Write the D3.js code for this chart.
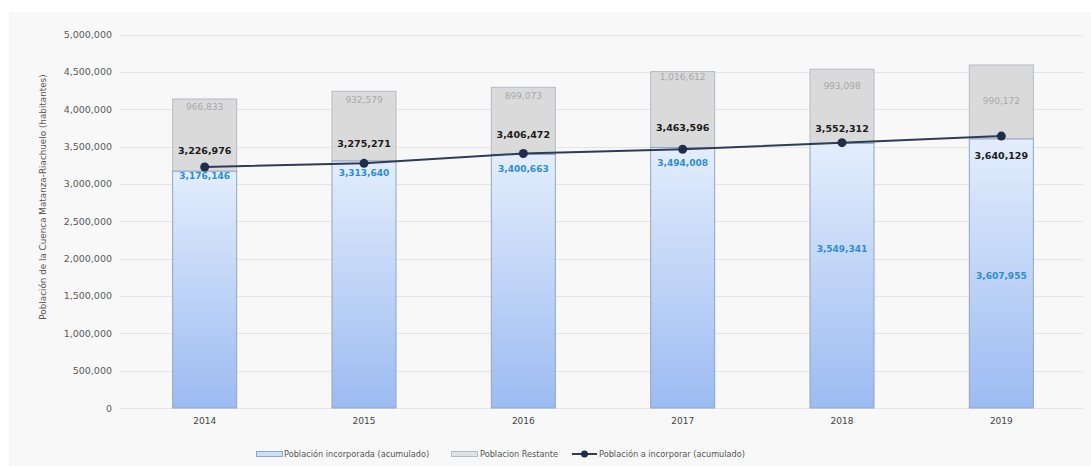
<!DOCTYPE html>
<html>
<head>
<meta charset="utf-8">
<script src="https://cdn.jsdelivr.net/npm/d3@7"></script>
<style>
  html, body { margin: 0; padding: 0; background: #ffffff; }
  svg { display: block; }
  text { font-family: "DejaVu Sans", sans-serif; }
</style>
</head>
<body>
<svg id="chart" width="1091" height="466"></svg>
<script>
// Años y series (habitantes)
const years = ["2014", "2015", "2016", "2017", "2018", "2019"];
const incorporada = [3176146, 3313640, 3400663, 3494008, 3549341, 3607955];
const restante = [966833, 932579, 899073, 1016612, 993098, 990172];
const aIncorporar = [3226976, 3275271, 3406472, 3463596, 3552312, 3640129];
const yTicks = [0, 500000, 1000000, 1500000, 2000000, 2500000, 3000000, 3500000, 4000000, 4500000, 5000000];
const seriesNames = ["Población incorporada (acumulado)", "Poblacion Restante", "Población a incorporar (acumulado)"];
const yTitle = "Población de la Cuenca Matanza-Riachuelo (habitantes)";

// Desplazamientos de las etiquetas (px) para evitar solapamientos
const lineLabelDy = [-15, -19, -18, -21, -13, 20];
const incLabelDy = [10, 10, 16, 14, 107, 140];
const restLabelDy = [9, 10, 10, 6, 18, 37];

const svg = d3.select("#chart");
const W = 1091, H = 466;
const plot = { left: 120, right: 1083, top: 34.5, bottom: 408 };

const fmt = d3.format(",");

// Panel de fondo
svg.append("rect").attr("x", 9).attr("y", 12).attr("width", W - 9).attr("height", H - 12)
  .attr("fill", "#f8f8f8");

const defs = svg.append("defs");
const grad = defs.append("linearGradient").attr("id", "gBlue")
  .attr("x1", 0).attr("y1", 0).attr("x2", 0).attr("y2", 1);
grad.append("stop").attr("offset", "0%").attr("stop-color", "#e3edfc");
grad.append("stop").attr("offset", "100%").attr("stop-color", "#9cbbf2");

const x = d3.scaleBand().domain(years).range([125, 1081]).paddingInner(0.592).paddingOuter(0.296);
const y = d3.scaleLinear().domain([0, 5000000]).range([plot.bottom, plot.top]);

// Líneas de cuadrícula
svg.append("g").selectAll("line").data(yTicks).join("line")
  .attr("x1", plot.left).attr("x2", plot.right)
  .attr("y1", d => Math.round(y(d)) + 0.5).attr("y2", d => Math.round(y(d)) + 0.5)
  .attr("stroke", "#e4e4e4").attr("stroke-width", 1);

// Eje Y
const yAxis = svg.append("g").attr("transform", `translate(${plot.left - 6},0)`)
  .call(d3.axisLeft(y).tickValues(yTicks).tickFormat(fmt).tickSize(0).tickPadding(2));
yAxis.select(".domain").remove();
yAxis.selectAll("text").attr("font-size", "9.5px").attr("fill", "#5a5a5a")
  .attr("font-family", "DejaVu Sans, sans-serif");

// Eje X
const xAxis = svg.append("g").attr("transform", `translate(0,${plot.bottom})`)
  .call(d3.axisBottom(x).tickSize(0).tickPadding(10));
xAxis.select(".domain").remove();
xAxis.selectAll("text").attr("font-size", "9px").attr("fill", "#444")
  .attr("font-family", "DejaVu Sans, sans-serif");

// Título del eje Y
svg.append("text")
  .attr("transform", `translate(46,197) rotate(-90)`)
  .attr("text-anchor", "middle")
  .attr("font-size", "8.8px").attr("fill", "#555")
  .text(yTitle);

// Barras apiladas
const bars = svg.append("g");
years.forEach((yr, i) => {
  const x0 = x(yr);
  const bw = x.bandwidth();
  const topInc = y(incorporada[i]);
  const topRest = y(incorporada[i] + restante[i]);
  bars.append("rect")
    .attr("x", x0 + 0.5).attr("y", topRest + 0.5)
    .attr("width", bw - 1).attr("height", topInc - topRest)
    .attr("fill", "#dadada").attr("stroke", "#b6bac3").attr("stroke-width", 1);
  bars.append("rect")
    .attr("x", x0 + 0.5).attr("y", topInc + 0.5)
    .attr("width", bw - 1).attr("height", y(0) - topInc - 0.5)
    .attr("fill", "url(#gBlue)").attr("stroke", "#8ea5c8").attr("stroke-width", 1);
});

// Línea de población a incorporar
const cx = d => x(d) + x.bandwidth() / 2;
const line = d3.line().x((d, i) => cx(years[i])).y(d => y(d));
svg.append("path").datum(aIncorporar)
  .attr("d", line).attr("fill", "none")
  .attr("stroke", "#2d3c57").attr("stroke-width", 2);
svg.append("g").selectAll("circle").data(aIncorporar).join("circle")
  .attr("cx", (d, i) => cx(years[i])).attr("cy", d => y(d))
  .attr("r", 4.5).attr("fill", "#1f2e4b");

// Etiquetas de valores
const labels = svg.append("g").attr("text-anchor", "middle").attr("dominant-baseline", "middle");
years.forEach((yr, i) => {
  labels.append("text")
    .attr("x", cx(yr)).attr("y", y(incorporada[i] + restante[i]) + restLabelDy[i])
    .attr("font-size", "9px").attr("fill", "#a8a8a8")
    .text(fmt(restante[i]));
  labels.append("text")
    .attr("x", cx(yr)).attr("y", y(aIncorporar[i]) + lineLabelDy[i])
    .attr("font-size", "9.5px").attr("font-weight", "bold").attr("fill", "#1a1a1a")
    .text(fmt(aIncorporar[i]));
  labels.append("text")
    .attr("x", cx(yr)).attr("y", y(aIncorporar[i]) + incLabelDy[i])
    .attr("font-size", "9px").attr("font-weight", "bold").attr("fill", "#2b8ed4")
    .text(fmt(incorporada[i]));
});

// Leyenda
const leg = svg.append("g").attr("transform", "translate(0,454)");
leg.append("rect").attr("x", 256.5).attr("y", -2.5).attr("width", 26).attr("height", 5)
  .attr("fill", "#cfdff9").attr("stroke", "#8ea5c8");
leg.append("text").attr("x", 284).attr("y", 0).attr("dominant-baseline", "middle")
  .attr("font-size", "8.2px").attr("fill", "#555").text(seriesNames[0]);
leg.append("rect").attr("x", 451.5).attr("y", -2.5).attr("width", 26).attr("height", 5)
  .attr("fill", "#e2e2e2").attr("stroke", "#b6bac3");
leg.append("text").attr("x", 480).attr("y", 0).attr("dominant-baseline", "middle")
  .attr("font-size", "8.2px").attr("fill", "#555").text(seriesNames[1]);
leg.append("line").attr("x1", 572).attr("x2", 597).attr("y1", 0).attr("y2", 0)
  .attr("stroke", "#2d3c57").attr("stroke-width", 2);
leg.append("circle").attr("cx", 584.5).attr("cy", 0).attr("r", 3.5).attr("fill", "#1f2e4b");
leg.append("text").attr("x", 599).attr("y", 0).attr("dominant-baseline", "middle")
  .attr("font-size", "8.2px").attr("fill", "#555").text(seriesNames[2]);
</script>
</body>
</html>
